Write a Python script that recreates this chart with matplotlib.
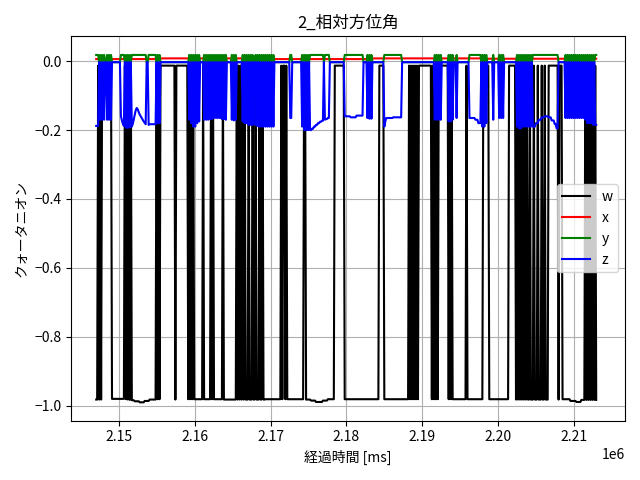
import numpy as np
import matplotlib
matplotlib.use("Agg")
import matplotlib.pyplot as plt

plt.rcParams['font.family'] = ['Noto Sans CJK JP', 'DejaVu Sans']

# log start and sample interval [ms]
t0_ms = 2147024.0
dt_ms = 130.5

# quaternion components as run-lengths: (number of samples, value)
w_runs = [
    (2, -0.982), (1, -0.013), (1, -0.982), (1, -0.013), (1, -0.982),
    (10, -0.013), (13, -0.980),
    (1, -0.013), (1, -0.981), (1, -0.013), (1, -0.982), (1, -0.013), (1, -0.983), (1, -0.013), (1, -0.984),
    (2, -0.984), (5, -0.987), (5, -0.990), (5, -0.986), (7, -0.982),
    (1, -0.013), (1, -0.981), (1, -0.013), (1, -0.981), (1, -0.013),
    (14, -0.013), (1, -0.982), (12, -0.013),
    (1, -0.981), (1, -0.013), (1, -0.981), (1, -0.013), (1, -0.981), (1, -0.013),
    (9, -0.981), (1, -0.013), (7, -0.981),
    (1, -0.013), (1, -0.981), (1, -0.013), (1, -0.981),
    (8, -0.981), (1, -0.013), (13, -0.982),
    (1, -0.013), (1, -0.982), (1, -0.013), (1, -0.982), (1, -0.013), (1, -0.982), (1, -0.013), (1, -0.982),
    (1, -0.013), (1, -0.982),
    (2, -0.982), (1, -0.013), (3, -0.982), (1, -0.013), (2, -0.982), (1, -0.013), (3, -0.982), (1, -0.013),
    (2, -0.982), (1, -0.013), (2, -0.982),
    (16, -0.981),
    (1, -0.013), (1, -0.981), (2, -0.013), (1, -0.981), (1, -0.013), (1, -0.981),
    (16, -0.981), (2, -0.013), (5, -0.982), (5, -0.985), (7, -0.989), (5, -0.985), (7, -0.981),
    (10, -0.013), (35, -0.981), (5, -0.013), (25, -0.981),
    (1, -0.013), (1, -0.981), (1, -0.013), (1, -0.981), (1, -0.013), (1, -0.981), (1, -0.013), (1, -0.981),
    (1, -0.013), (1, -0.981),
    (13, -0.013),
    (1, -0.981), (1, -0.013), (1, -0.981), (1, -0.013), (1, -0.981), (1, -0.013), (1, -0.981),
    (10, -0.013),
    (1, -0.981), (1, -0.013), (1, -0.981), (1, -0.013),
    (14, -0.981), (1, -0.013), (16, -0.981),
    (6, -0.013), (20, -0.981), (7, -0.013),
    (1, -0.982), (1, -0.013), (1, -0.982), (1, -0.013), (1, -0.982), (1, -0.013), (1, -0.982), (1, -0.013),
    (1, -0.982), (1, -0.013), (1, -0.982), (1, -0.013),
    (2, -0.982), (1, -0.013), (3, -0.982), (1, -0.013), (3, -0.982), (1, -0.013), (3, -0.982), (1, -0.013),
    (2, -0.982), (1, -0.013), (3, -0.982),
    (10, -0.013), (1, -0.982), (3, -0.013),
    (8, -0.981), (6, -0.986), (5, -0.989), (4, -0.983),
    (1, -0.013), (1, -0.983), (1, -0.013), (1, -0.983), (1, -0.013), (1, -0.983), (1, -0.013), (1, -0.983),
    (1, -0.013), (1, -0.983), (1, -0.013), (1, -0.983),
]

x_runs = [(60, 0.006), (120, 0.008), (100, 0.006), (110, 0.008), (116, 0.007)]

z_runs = [
    (3, -0.188),
    (1, -0.003), (1, -0.170), (1, -0.003), (1, -0.170), (1, -0.003), (1, -0.170), (2, -0.003), (1, -0.170),
    (1, -0.003), (1, -0.170), (1, -0.003), (1, -0.170),
    (9, -0.003),
    (1, -0.160), (1, -0.172), (1, -0.182), (1, -0.188),
    (1, -0.003), (1, -0.193), (1, -0.003), (1, -0.194), (1, -0.003), (1, -0.192), (1, -0.003), (1, -0.190),
    (1, -0.182), (1, -0.168), (1, -0.155), (1, -0.142), (1, -0.136), (1, -0.140), (1, -0.148), (1, -0.155),
    (1, -0.160), (1, -0.165), (1, -0.170), (1, -0.175), (1, -0.179), (1, -0.183), (2, -0.003), (1, -0.185),
    (7, -0.183),
    (1, -0.003), (1, -0.180), (1, -0.003), (1, -0.180), (29, -0.003),
    (1, -0.170), (1, -0.003), (1, -0.180), (1, -0.003), (1, -0.190), (1, -0.003), (1, -0.190), (1, -0.003),
    (1, -0.180), (1, -0.003), (1, -0.175), (4, -0.003),
    (1, -0.170), (1, -0.003), (1, -0.170), (1, -0.003), (1, -0.170), (1, -0.003), (1, -0.168), (1, -0.003),
    (1, -0.168), (1, -0.003), (1, -0.165), (1, -0.003), (1, -0.165), (1, -0.003), (1, -0.165), (1, -0.003),
    (1, -0.165), (1, -0.003), (1, -0.168), (1, -0.003), (1, -0.168), (1, -0.003), (1, -0.170),
    (5, -0.003),
    (1, -0.170), (1, -0.003), (1, -0.172), (1, -0.003), (1, -0.170),
    (6, -0.003),
    (1, -0.175), (1, -0.003), (1, -0.180), (1, -0.003), (1, -0.180), (1, -0.003), (1, -0.185), (1, -0.003),
    (1, -0.185), (1, -0.003), (1, -0.185), (2, -0.003), (1, -0.185), (1, -0.003), (1, -0.188), (1, -0.003),
    (1, -0.190), (1, -0.003), (1, -0.190), (1, -0.003), (1, -0.190), (1, -0.003), (1, -0.190), (1, -0.003),
    (1, -0.190), (1, -0.003), (1, -0.190), (1, -0.003), (1, -0.190), (1, -0.003), (1, -0.190),
    (16, -0.003), (2, -0.165), (10, -0.003),
    (1, -0.190), (1, -0.003), (1, -0.200), (1, -0.003), (1, -0.200), (1, -0.003), (1, -0.200), (1, -0.003),
    (2, -0.200), (2, -0.196), (2, -0.190), (2, -0.185), (2, -0.180), (2, -0.176), (2, -0.173),
    (1, -0.003), (1, -0.170), (2, -0.168), (2, -0.165),
    (15, -0.003),
    (6, -0.160), (6, -0.163), (7, -0.158),
    (4, -0.003),
    (1, -0.165), (1, -0.003), (1, -0.167), (1, -0.003), (1, -0.167),
    (12, -0.003),
    (1, -0.190), (1, -0.175), (7, -0.165), (9, -0.163),
    (33, -0.003),
    (1, -0.170), (1, -0.003), (1, -0.170), (1, -0.003), (1, -0.170), (1, -0.003), (1, -0.170),
    (7, -0.003),
    (1, -0.175), (1, -0.003), (1, -0.175), (1, -0.003), (1, -0.170), (3, -0.003), (1, -0.165), (12, -0.003),
    (6, -0.165), (3, -0.170), (3, -0.180),
    (1, -0.003), (1, -0.190), (1, -0.003), (1, -0.190), (1, -0.003), (1, -0.180), (6, -0.003),
    (1, -0.170), (5, -0.003), (1, -0.165), (1, -0.003), (1, -0.165), (1, -0.003), (1, -0.165),
    (13, -0.003),
    (1, -0.190), (1, -0.003), (1, -0.195), (1, -0.003), (1, -0.195), (1, -0.003), (1, -0.190), (1, -0.003),
    (1, -0.190), (1, -0.003), (1, -0.190), (1, -0.003), (1, -0.190), (1, -0.003), (1, -0.190), (1, -0.003),
    (3, -0.190), (3, -0.180), (3, -0.170), (3, -0.163), (4, -0.160), (3, -0.163), (3, -0.172), (2, -0.182),
    (2, -0.195),
    (7, -0.003),
    (1, -0.165), (1, -0.003), (1, -0.165), (1, -0.003), (1, -0.165), (1, -0.003), (1, -0.165), (1, -0.003),
    (1, -0.165), (1, -0.003), (1, -0.165), (1, -0.003), (1, -0.165), (1, -0.003), (1, -0.165), (1, -0.003),
    (1, -0.165), (1, -0.003), (1, -0.165), (1, -0.003), (1, -0.170), (1, -0.003), (1, -0.180), (1, -0.003),
    (1, -0.180), (1, -0.003), (1, -0.180), (1, -0.003), (1, -0.185), (1, -0.003), (1, -0.185), (1, -0.185),
]

# y sits just above zero while z is low, and under the z line while z is up
y_low_z = 0.018
y_high_z = -0.003


def expand(runs):
    n = [r[0] for r in runs]
    v = [r[1] for r in runs]
    return np.repeat(v, n)


w = expand(w_runs)
x = expand(x_runs)
z = expand(z_runs)
y = np.where(z < -0.05, y_low_z, y_high_z)

t_w = t0_ms + dt_ms * np.arange(len(w))
t_x = t0_ms + dt_ms * np.arange(len(x))
t_z = t0_ms + dt_ms * np.arange(len(z))

fig, ax = plt.subplots(figsize=(6.4, 4.8), dpi=100)
ax.plot(t_w, w, color='black', label='w')
ax.plot(t_x, x, color='red', label='x')
ax.plot(t_z, y, color='green', label='y')
ax.plot(t_z, z, color='blue', label='z')

ax.set_xlim(2143760, 2216720)
ax.set_ylim(-1.043, 0.072)
ax.set_title('2_相対方位角')
ax.set_xlabel('経過時間 [ms]')
ax.set_ylabel('クォータニオン')
ax.grid(True)
ax.legend(loc='center right')

fig.tight_layout()
fig.savefig('out.png')
